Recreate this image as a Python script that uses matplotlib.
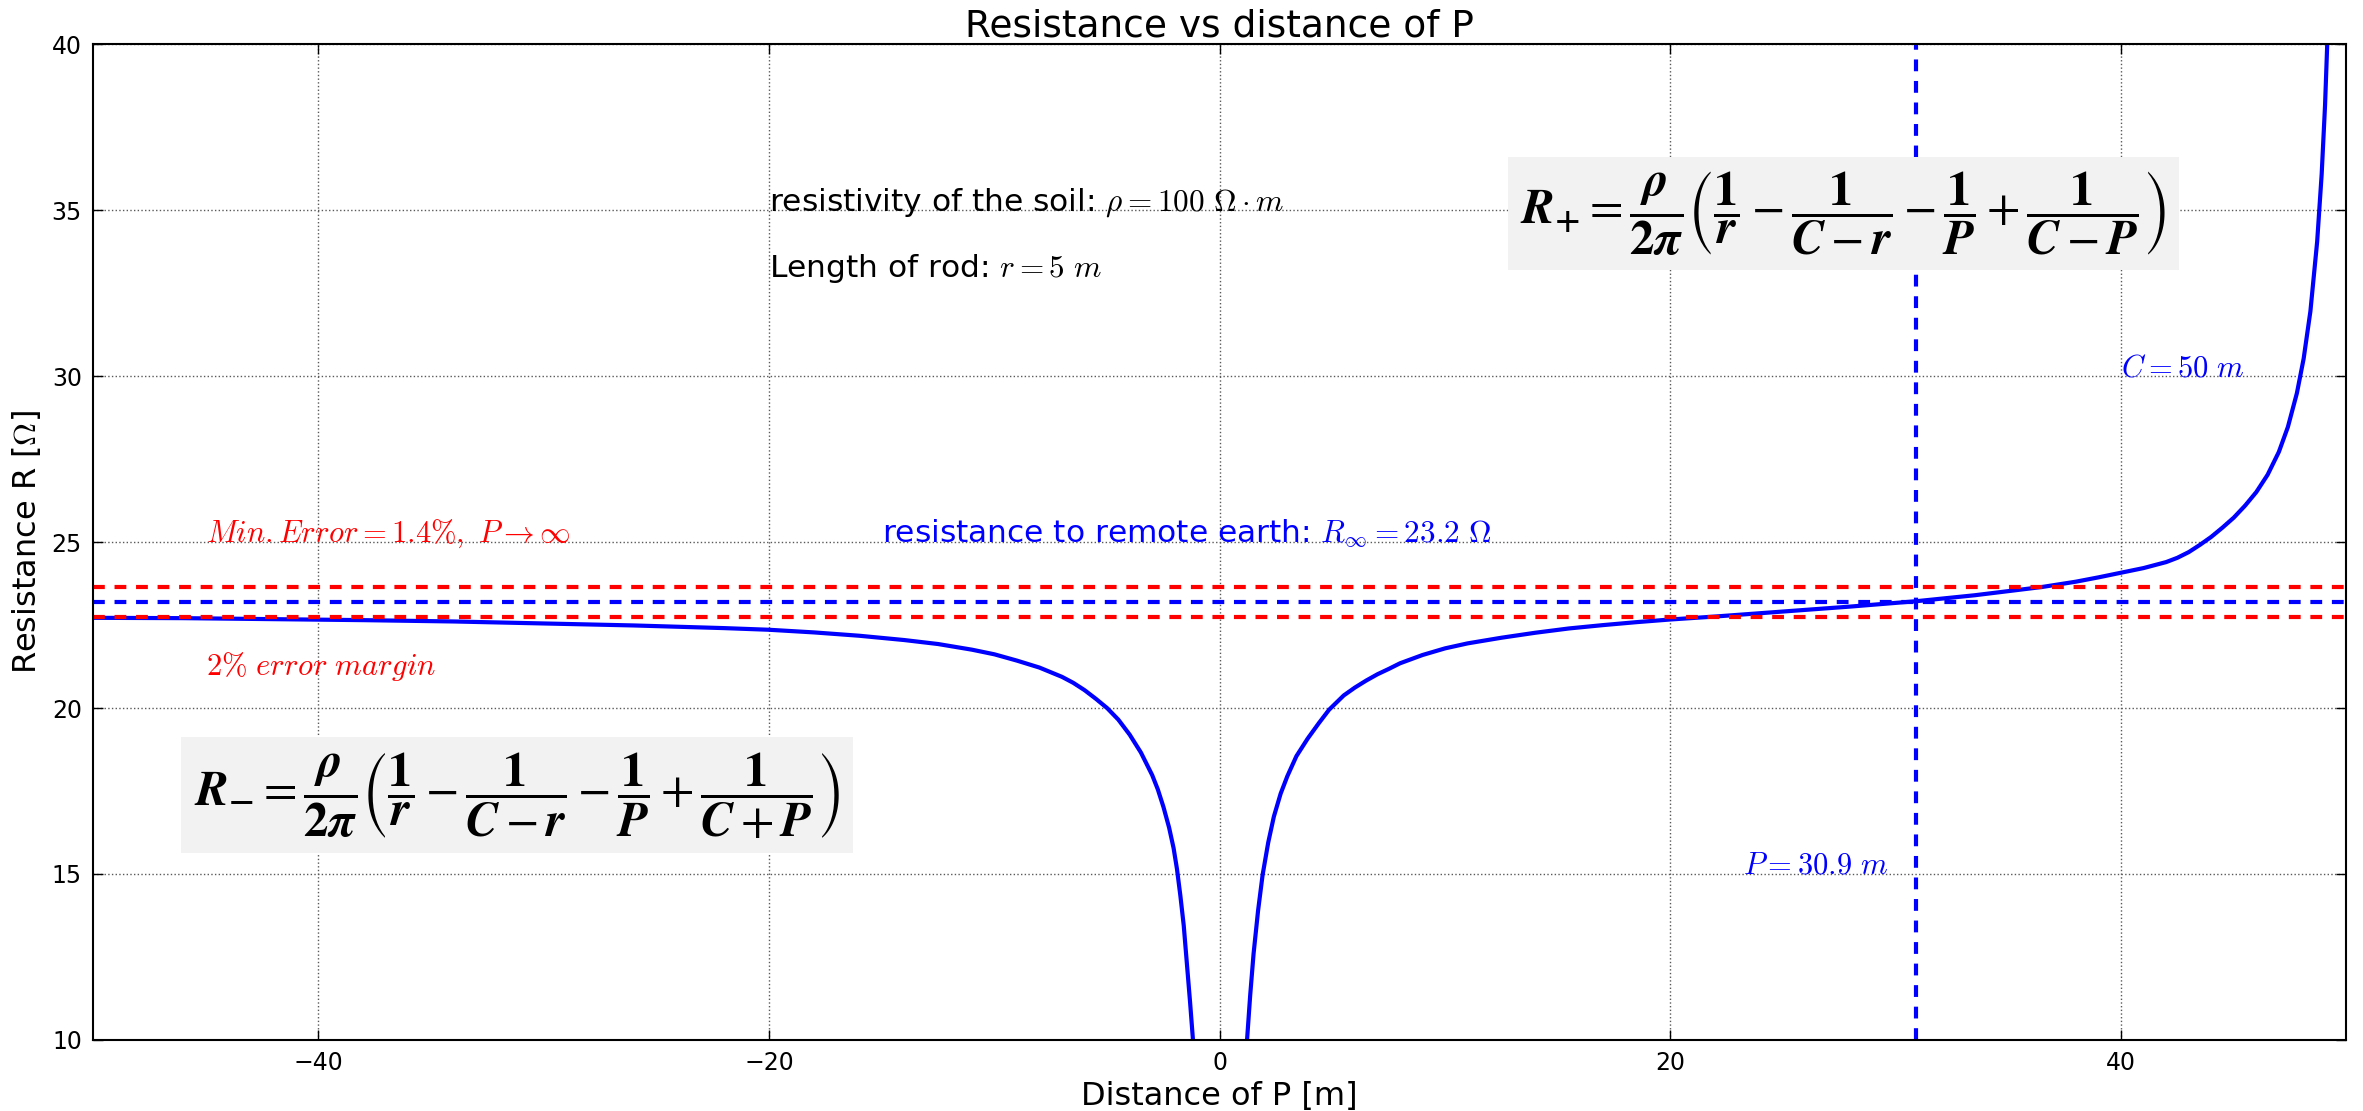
import matplotlib
matplotlib.use("Agg")
import matplotlib.pyplot as plt

plt.rcParams['mathtext.fontset'] = 'cm'
plt.rcParams['lines.scale_dashes'] = False

# values
p_left = [-50, -46, -42, -38, -34, -30, -26, -22, -20, -18, -16, -14, -12.5, -11, -10,
          -9, -8, -7, -6.5, -6, -5.5, -5.0, -4.5, -4.0, -3.5, -3.0, -2.75, -2.5, -2.25,
          -2.05, -1.9, -1.75, -1.6, -1.46, -1.32, -1.19, -1.1]
r_left = [22.72, 22.71, 22.68, 22.65, 22.61, 22.55, 22.49, 22.41, 22.36, 22.28, 22.18,
          22.05, 21.93, 21.76, 21.62, 21.43, 21.22, 20.94, 20.76, 20.54, 20.28, 20.0,
          19.65, 19.2, 18.66, 17.98, 17.55, 17.02, 16.40, 15.78, 15.15, 14.35, 13.45,
          12.3, 11.15, 10.0, 8.9]

p_right = [1.1, 1.21, 1.35, 1.5, 1.7, 1.9, 2.15, 2.4, 2.7, 3.0, 3.4, 3.9, 4.4, 4.85,
           5.5, 6.0, 6.5, 7.0, 7.5, 8.0, 9.0, 10.0, 11.0, 12.5, 14.0, 15.5, 17.0, 18.5,
           20.0, 22.0, 25.0, 28.0, 30.9, 33.5, 36.5, 38.0, 39.0, 40.0, 41.0, 42.0, 42.5,
           43.0, 43.5, 44.0, 44.5, 45.0, 45.5, 46.0, 46.5, 47.0, 47.4, 47.8, 48.1, 48.4,
           48.7, 48.9, 49.05, 49.2]
r_right = [9.0, 10.0, 11.35, 12.6, 13.9, 14.97, 15.95, 16.73, 17.42, 17.95, 18.55,
           19.08, 19.55, 19.95, 20.38, 20.62, 20.83, 21.02, 21.18, 21.35, 21.60, 21.80,
           21.95, 22.12, 22.27, 22.40, 22.50, 22.59, 22.67, 22.76, 22.91, 23.06, 23.22,
           23.40, 23.65, 23.81, 23.94, 24.08, 24.22, 24.40, 24.53, 24.70, 24.92, 25.16,
           25.44, 25.74, 26.10, 26.51, 27.03, 27.72, 28.47, 29.49, 30.53, 31.96, 34.06,
           36.09, 38.17, 41.03]

r_inf = 23.2
err_high = 23.66
err_low = 22.74
p_cross = 30.9

fig = plt.figure(figsize=(23.63, 11.11), dpi=100)
ax = fig.add_axes([0.0394, 0.064, 0.9536, 0.896])

ax.plot(p_left, r_left, color='blue', lw=3)
ax.plot(p_right, r_right, color='blue', lw=3)
ax.axhline(err_high, color='red', lw=3, ls='--', dashes=(8.5, 7))
ax.axhline(err_low, color='red', lw=3, ls='--', dashes=(8.5, 7))
ax.axhline(r_inf, color='blue', lw=3, ls='--', dashes=(8.5, 7))
ax.axvline(p_cross, color='blue', lw=3, ls='--', dashes=(8.5, 7))

ax.set_xlim(-50, 50)
ax.set_ylim(10, 40)
ax.set_xticks([-40, -20, 0, 20, 40])
ax.set_yticks([10, 15, 20, 25, 30, 35, 40])
ax.grid(True, color='0.35', ls=':', lw=1)
ax.tick_params(direction='in', top=True, right=True, length=7, width=1, labelsize=17, pad=8)
for s in ax.spines.values():
    s.set_linewidth(1.5)

ax.set_title('Resistance vs distance of P', fontsize=27, pad=6)
ax.set_xlabel('Distance of P [m]', fontsize=23, labelpad=4)
ax.set_ylabel(r'Resistance R [$\Omega$]', fontsize=23, labelpad=6)

ax.text(-20, 35, r'resistivity of the soil: $\rho = 100\ \Omega \cdot m$', fontsize=22.5)
ax.text(-20, 33, r'Length of rod: $r = 5\ m$', fontsize=22.5)
ax.text(-15, 25, r'resistance to remote earth: $R_{\infty} = 23.2\ \Omega$', fontsize=22.5, color='blue')
ax.text(-45, 25, r'$Min. Error = 1.4\%,\ P \to \infty$', fontsize=22, color='red')
ax.text(-45, 21, r'$2\%\ error\ margin$', fontsize=22, color='red')
ax.text(40, 30, r'$C = 50\ m$', fontsize=22, color='blue')
ax.text(23.2, 15, r'$P = 30.9\ m$', fontsize=22, color='blue')

f_plus = (r'$\mathbfit{R}_{\mathbf{+}} = \dfrac{\mathbfit{\rho}}{\mathbf{2}\mathbfit{\pi}}'
          r'\left(\dfrac{\mathbf{1}}{\mathbfit{r}} - \dfrac{\mathbf{1}}{\mathbfit{C} - \mathbfit{r}}'
          r' - \dfrac{\mathbf{1}}{\mathbfit{P}} + \dfrac{\mathbf{1}}{\mathbfit{C} - \mathbfit{P}}\right)$')
f_minus = (r'$\mathbfit{R}_{\mathbf{-}} = \dfrac{\mathbfit{\rho}}{\mathbf{2}\mathbfit{\pi}}'
           r'\left(\dfrac{\mathbf{1}}{\mathbfit{r}} - \dfrac{\mathbf{1}}{\mathbfit{C} - \mathbfit{r}}'
           r' - \dfrac{\mathbf{1}}{\mathbfit{P}} + \dfrac{\mathbf{1}}{\mathbfit{C} + \mathbfit{P}}\right)$')
box = dict(facecolor='#f2f2f2', edgecolor='none', pad=9)
ax.text(27.67, 34.9, f_plus, fontsize=35, ha='center', va='center', math_fontfamily='stix', bbox=box)
ax.text(-31.18, 17.38, f_minus, fontsize=35, ha='center', va='center', math_fontfamily='stix', bbox=box)

fig.savefig('out.png', dpi=100)
